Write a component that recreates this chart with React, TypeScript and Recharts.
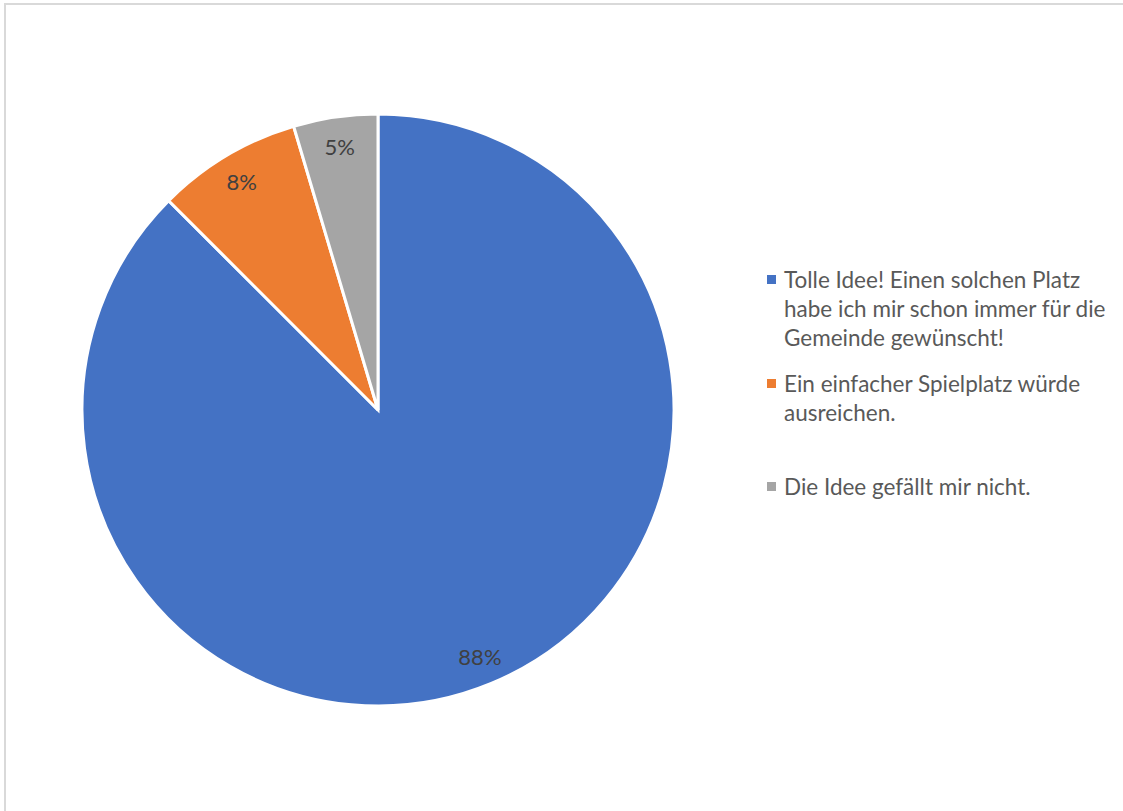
import { PieChart, Pie, Cell, Legend } from "recharts";

// Umfrage: Meinung zum geplanten Platz
const categories = [
  "Tolle Idee! Einen solchen Platz habe ich mir schon immer für die Gemeinde gewünscht!",
  "Ein einfacher Spielplatz würde ausreichen.",
  "Die Idee gefällt mir nicht.",
];
const shares = [87.5, 7.9, 4.6];
const colors = ["#4472C4", "#ED7D31", "#A5A5A5"];

const data = categories.map((name, i) => ({ name, value: shares[i] }));

const FONT = "Lato, 'Open Sans', sans-serif";
const TEXT = "#595959";
const RADIAN = Math.PI / 180;

const renderLabel = (props: any) => {
  const { cx, cy, midAngle, outerRadius, percent } = props;
  const r = outerRadius * 0.9;
  const x = cx + r * Math.cos(-midAngle * RADIAN);
  const y = cy + r * Math.sin(-midAngle * RADIAN);
  return (
    <text
      x={x}
      y={y}
      fill="#404040"
      fontSize={22}
      fontFamily={FONT}
      textAnchor="middle"
      dominantBaseline="central"
    >
      {`${Math.round(percent * 100)}%`}
    </text>
  );
};

const renderLegend = () => (
  <div style={{ fontFamily: FONT, color: TEXT, fontSize: 22.5 }}>
    {categories.map((name, i) => (
      <div key={name} style={{ display: "flex", height: 103.5, alignItems: "flex-start" }}>
        <div
          style={{
            width: 9,
            height: 9,
            background: colors[i],
            marginTop: 10,
            marginRight: 8,
            flexShrink: 0,
          }}
        />
        <div style={{ lineHeight: "29px" }}>{name}</div>
      </div>
    ))}
  </div>
);

export default function App() {
  return (
    <div style={{ position: "fixed", left: 0, top: 0, width: 1123, height: 811, overflow: "hidden", background: "#fff" }}>
      <div
        style={{
          position: "absolute",
          left: 4,
          top: 3,
          width: 1140,
          height: 840,
          border: "2px solid #d9d9d9",
        }}
      />
      <div style={{ position: "absolute", left: 0, top: 0 }}>
        <PieChart width={1123} height={811} margin={{ top: 0, right: 0, bottom: 0, left: 0 }}>
          <Pie
            data={data}
            dataKey="value"
            nameKey="name"
            cx={378}
            cy={410}
            outerRadius={296}
            startAngle={90}
            endAngle={-270}
            stroke="#fff"
            strokeWidth={3}
            label={renderLabel}
            labelLine={false}
            isAnimationActive={false}
          >
            {data.map((d, i) => (
              <Cell key={d.name} fill={colors[i]} />
            ))}
          </Pie>
          <Legend
            content={renderLegend}
            layout="vertical"
            wrapperStyle={{ position: "absolute", left: 767, top: 265, width: 345 }}
          />
        </PieChart>
      </div>
    </div>
  );
}
